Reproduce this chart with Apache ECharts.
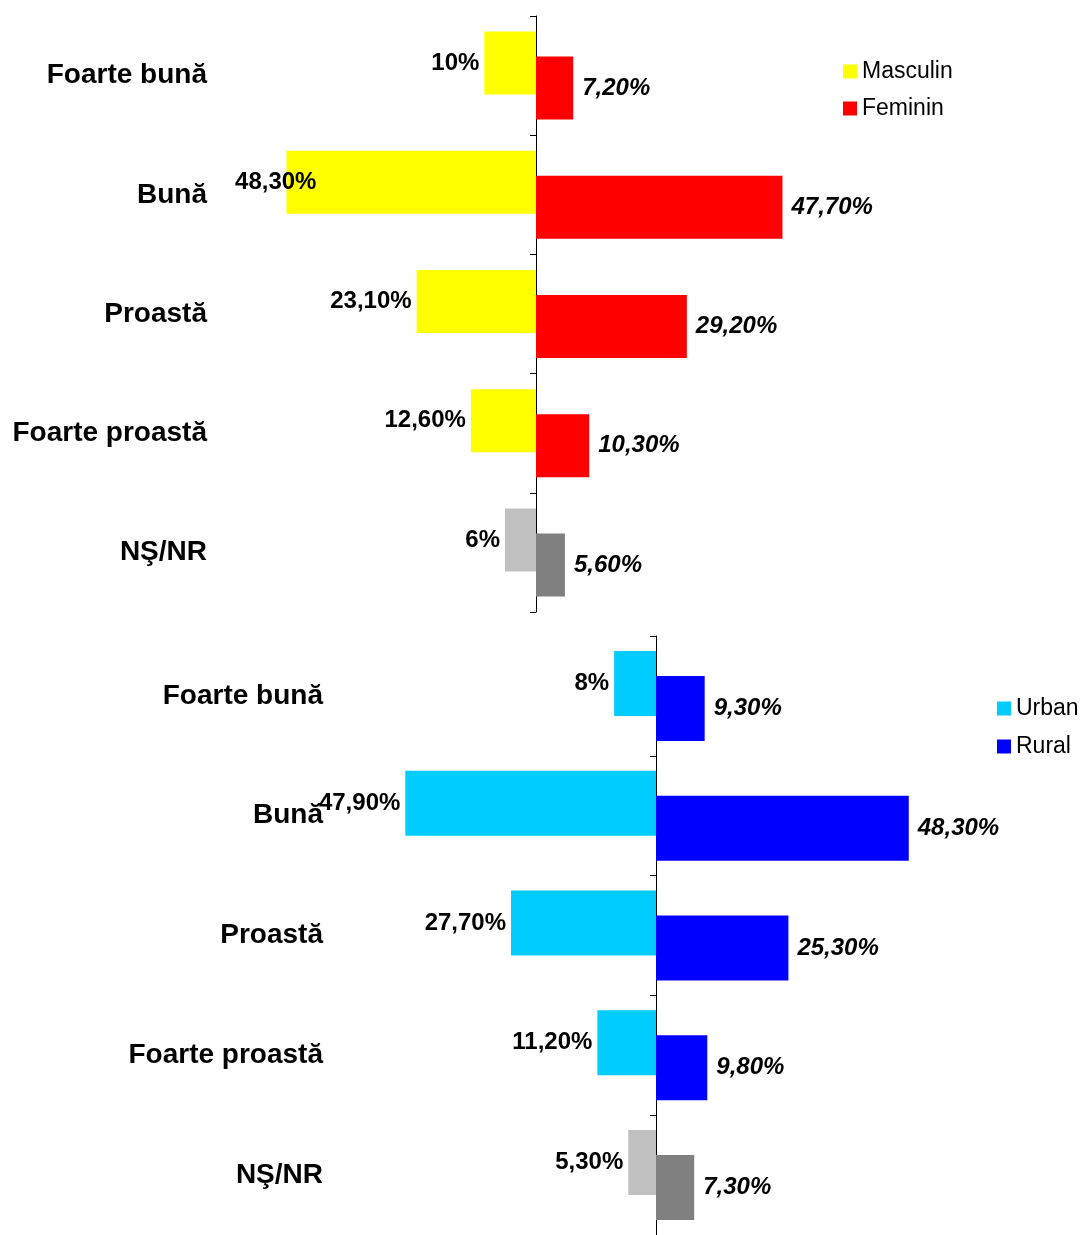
<!DOCTYPE html>
<html>
<head>
<meta charset="utf-8">
<script src="https://cdn.jsdelivr.net/npm/echarts@6/dist/echarts.min.js"></script>
<style>
  html, body { margin: 0; padding: 0; background: #fff; }
</style>
</head>
<body>
<div id="chart" style="width:1084px;height:1235px;"></div>
<script>
  // categorii (de sus in jos)
  var categories = ['Foarte bună', 'Bună', 'Proastă', 'Foarte proastă', 'NŞ/NR'];

  // grafic sus - sex
  var masculin = [10, 48.3, 23.1, 12.6, 6];
  var feminin = [7.2, 47.7, 29.2, 10.3, 5.6];

  // grafic jos - mediu
  var urban = [8, 47.9, 27.7, 11.2, 5.3];
  var rural = [9.3, 48.3, 25.3, 9.8, 7.3];

  var FONT = "'Liberation Sans', Arial, sans-serif";

  function fmt(v) {
    v = Math.abs(v);
    return (Number.isInteger(v) ? v : v.toFixed(2).replace('.', ',')) + '%';
  }

  // ultima categorie (NS/NR) e gri
  function leftData(arr) {
    return arr.map(function (v, i) {
      var item = { value: -v };
      if (i === arr.length - 1) item.itemStyle = { color: '#C0C0C0' };
      return item;
    });
  }
  function rightData(arr) {
    return arr.map(function (v, i) {
      var item = { value: v };
      if (i === arr.length - 1) item.itemStyle = { color: '#808080' };
      return item;
    });
  }

  function labelAxis(grid) {
    return {
      type: 'category', gridIndex: grid, data: categories, inverse: true,
      position: 'left',
      axisLine: { show: false, onZero: false }, axisTick: { show: false },
      axisLabel: {
        margin: 19, fontSize: 28, fontWeight: 'bold', color: '#000', fontFamily: FONT,
        padding: [5, 0, 0, 0]
      }
    };
  }
  function zeroAxis(grid) {
    return {
      type: 'category', gridIndex: grid, data: categories, inverse: true,
      position: 'left',
      axisLine: { show: true, onZero: true, lineStyle: { color: '#000', width: 1 } },
      axisTick: { show: true, length: 6, lineStyle: { color: '#000' } },
      axisLabel: { show: false }
    };
  }
  function valueAxis(grid) {
    return {
      type: 'value', gridIndex: grid, min: -60, max: 60,
      show: false, splitLine: { show: false }
    };
  }

  var leftLabel = {
    show: true, position: 'left', distance: 5,
    fontSize: 24, fontWeight: 'bold', color: '#000', fontFamily: FONT,
    formatter: function (p) { return fmt(p.value); }
  };
  var rightLabel = {
    show: true, position: 'right', distance: 9,
    fontSize: 24, fontWeight: 'bold', fontStyle: 'italic', color: '#000', fontFamily: FONT,
    formatter: function (p) { return fmt(p.value); }
  };

  var mascData = leftData(masculin);
  // eticheta 48,30% e impinsa spre dreapta, in zona graficului
  mascData[1].label = { offset: [35, 0] };

  var options = {
    backgroundColor: '#fff',
    animation: false,
    textStyle: { fontFamily: FONT },
    grid: [
      { left: 226, width: 620, top: 16, height: 596 },
      { left: 342, width: 628, top: 636, height: 608 }
    ],
    xAxis: [valueAxis(0), valueAxis(1)],
    yAxis: [labelAxis(0), zeroAxis(0), labelAxis(1), zeroAxis(1)],
    legend: [
      {
        data: ['Masculin', 'Feminin'], orient: 'vertical', left: 843, top: 60, padding: 0,
        itemWidth: 14, itemHeight: 14, itemGap: 14, icon: 'rect',
        textStyle: { fontSize: 23, color: '#000', fontFamily: FONT }
      },
      {
        data: ['Urban', 'Rural'], orient: 'vertical', left: 997, top: 697, padding: 0,
        itemWidth: 14, itemHeight: 14, itemGap: 15, icon: 'rect',
        textStyle: { fontSize: 23, color: '#000', fontFamily: FONT }
      }
    ],
    series: [
      {
        name: 'Masculin', type: 'bar', xAxisIndex: 0, yAxisIndex: 0,
        barWidth: 63, barGap: '-60.3%', color: '#FFFF00',
        label: leftLabel, data: mascData
      },
      {
        name: 'Feminin', type: 'bar', xAxisIndex: 0, yAxisIndex: 0,
        barWidth: 63, barGap: '-60.3%', color: '#FF0000',
        label: rightLabel, data: rightData(feminin)
      },
      {
        name: 'Urban', type: 'bar', xAxisIndex: 1, yAxisIndex: 2,
        barWidth: 65, barGap: '-61.5%', color: '#00CCFF',
        label: leftLabel, data: leftData(urban)
      },
      {
        name: 'Rural', type: 'bar', xAxisIndex: 1, yAxisIndex: 2,
        barWidth: 65, barGap: '-61.5%', color: '#0000FF',
        label: rightLabel, data: rightData(rural)
      }
    ]
  };

  var mychart = echarts.init(document.getElementById('chart'));
  mychart.setOption(options);
</script>
</body>
</html>
